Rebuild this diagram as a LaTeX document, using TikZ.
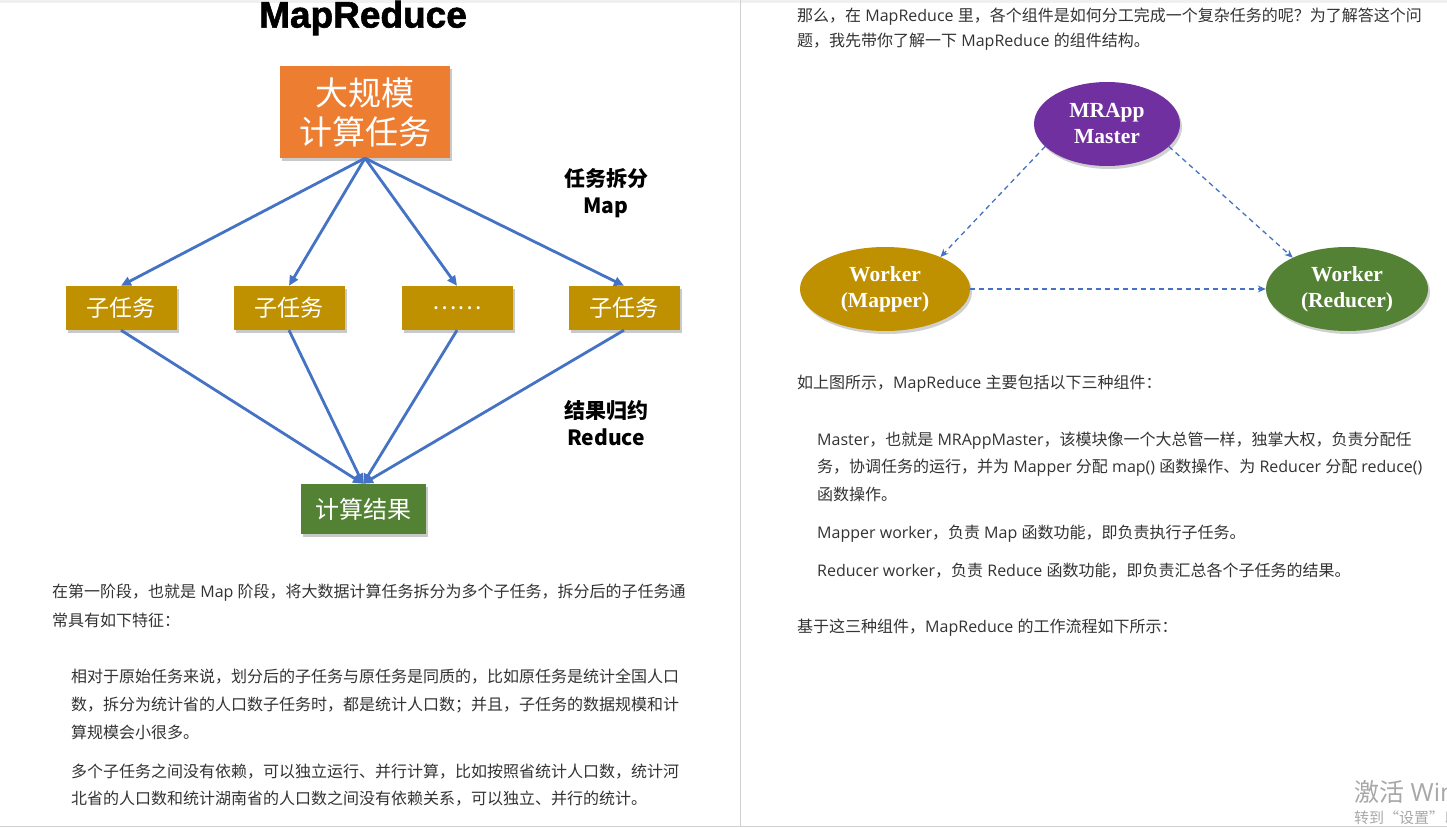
\documentclass[tikz,border=0pt]{standalone}
\usepackage{fontspec}
\setmainfont{Liberation Sans}
\newfontfamily\titlefont{Liberation Sans}[BoldFeatures={FakeBold=1.6}]
\newfontfamily\cjk{Noto Sans CJK SC}
\newfontfamily\lat{Open Sans}
\newfontfamily\serifb{Liberation Serif}
\usetikzlibrary{shadows,arrows.meta,shapes.geometric}
\definecolor{flowblue}{HTML}{4472C4}
\definecolor{boxorange}{HTML}{ED7D31}
\definecolor{boxgold}{HTML}{BF9000}
\definecolor{boxgreen}{HTML}{548235}
\definecolor{boxpurple}{HTML}{7030A0}
\definecolor{bodytext}{HTML}{333333}
\definecolor{pageline}{HTML}{D0D0D0}
\definecolor{wmark}{HTML}{A8A8A8}
\newcommand{\latw}[1]{{\lat\ #1\ }}
\newcommand{\latb}[1]{{\lat #1\ }}
\newcommand{\late}[1]{{\lat\ #1}}
\tikzset{
  shbox/.style={rectangle, inner sep=0pt, text=white,
    drop shadow={shadow xshift=2pt, shadow yshift=-3pt, opacity=0.35, fill=black!60}},
  subbox/.style={shbox, fill=boxgold, minimum width=111pt, minimum height=44pt,
    font=\cjk\fontsize{23}{28}\selectfont},
  ellnode/.style={ellipse, inner sep=0pt, text=white, align=center,
    font=\serifb\bfseries\fontsize{21.5}{26}\selectfont,
    drop shadow={shadow xshift=2pt, shadow yshift=-3pt, opacity=0.3, fill=black!60}},
  flow/.style={draw=flowblue, line width=2.8pt, -{Triangle[length=10pt,width=9pt]}},
  dflow/.style={draw=flowblue, line width=1.3pt, dash pattern=on 5pt off 4pt,
    -{Stealth[length=8pt,width=7pt]}},
  sidelabel/.style={align=center, font=\cjk\bfseries\fontsize{21}{27}\selectfont},
  bodyline/.style={anchor=base west, inner sep=0pt, text=bodytext,
    font=\cjk\fontsize{16}{20}\selectfont},
}
\begin{document}
\begin{tikzpicture}[x=1pt,y=-1pt]
\useasboundingbox (0,0) rectangle (1447,827);
\fill[white] (0,0) rectangle (1447,827);
% page frame
\fill[black!6] (0,0) rectangle (1447,3);
\draw[pageline, line width=1pt] (740,0) -- (740,827);
\draw[pageline, line width=1pt] (0,826) -- (1447,826);

% ---------- left page: MapReduce figure ----------
\node[font=\titlefont\bfseries\fontsize{37}{40}\selectfont, inner sep=0pt] (title) at (363,18) {MapReduce};

\node[shbox, fill=boxorange, minimum width=170pt, minimum height=92pt, align=center,
      font=\cjk\fontsize{33}{39}\selectfont] (big) at (365,112) {大规模\\计算任务};

\node[subbox] (s1) at (121,308) {子任务};
\node[subbox] (s2) at (289,308) {子任务};
\node[subbox] (s3) at (457,308) {……};
\node[subbox] (s4) at (624,308) {子任务};

\node[shbox, fill=boxgreen, minimum width=125pt, minimum height=50pt,
      font=\cjk\fontsize{24}{28}\selectfont] (res) at (363,509) {计算结果};

\node[sidelabel] (maplbl) at (606,193) {任务拆分\\Map};
\node[sidelabel] (redlbl) at (606,423) {结果归约\\Reduce};

\foreach \s in {s1,s2,s3,s4}{
  \draw[flow] (big.south) -- (\s.north);
  \draw[flow] (\s.south) -- (res.north);
}

% left page text
\node[bodyline] (l1) at (52,597) {在第一阶段，也就是\latw{Map}阶段，将大数据计算任务拆分为多个子任务，拆分后的子任务通};
\node[bodyline] (l2) at (52,626) {常具有如下特征：};
\node[bodyline] (l3) at (71,682) {相对于原始任务来说，划分后的子任务与原任务是同质的，比如原任务是统计全国人口};
\node[bodyline] (l4) at (71,710) {数，拆分为统计省的人口数子任务时，都是统计人口数；并且，子任务的数据规模和计};
\node[bodyline] (l5) at (71,738) {算规模会小很多。};
\node[bodyline] (l6) at (71,777) {多个子任务之间没有依赖，可以独立运行、并行计算，比如按照省统计人口数，统计河};
\node[bodyline] (l7) at (71,804) {北省的人口数和统计湖南省的人口数之间没有依赖关系，可以独立、并行的统计。};

% ---------- right page ----------
\node[bodyline] (r1) at (797,21) {那么，在\latw{MapReduce}里，各个组件是如何分工完成一个复杂任务的呢？为了解答这个问};
\node[bodyline] (r2) at (797,46) {题，我先带你了解一下\latw{MapReduce}的组件结构。};

\node[ellnode, fill=boxpurple, minimum width=146pt, minimum height=84pt] (mst) at (1107,124) {MRApp\\Master};
\node[ellnode, fill=boxgold, minimum width=170pt, minimum height=84pt] (mp) at (885,289) {Worker\\(Mapper)};
\node[ellnode, fill=boxgreen, minimum width=162pt, minimum height=84pt] (rd) at (1347,289) {Worker\\(Reducer)};

\draw[dflow] (mst.200) -- (mp.30);
\draw[dflow] (mst.-20) -- (rd.150);
\draw[dflow] (mp.east) -- (rd.west);

\node[bodyline] (r3) at (797,388) {如上图所示，\latb{MapReduce}主要包括以下三种组件：};
\node[bodyline] (r4) at (817,445) {{\lat Master}，也就是\late{MRAppMaster}，该模块像一个大总管一样，独掌大权，负责分配任};
\node[bodyline] (r5) at (817,472) {务，协调任务的运行，并为\latw{Mapper}分配\latw{map()}函数操作、为\latw{Reducer}分配\late{reduce()}};
\node[bodyline] (r6) at (817,500) {函数操作。};
\node[bodyline] (r7) at (817,538) {{\lat Mapper worker}，负责\latw{Map}函数功能，即负责执行子任务。};
\node[bodyline] (r8) at (817,576) {{\lat Reducer worker}，负责\latw{Reduce}函数功能，即负责汇总各个子任务的结果。};
\node[bodyline] (r9) at (797,632) {基于这三种组件，\latb{MapReduce}的工作流程如下所示：};

% watermark (clipped at the right edge, as in the screenshot)
\begin{scope}
\clip (1340,760) rectangle (1447,827);
\node[anchor=base west, inner sep=0pt, text=wmark, font=\cjk\fontsize{25}{30}\selectfont] (wm1) at (1354,801) {激活\latw{Windows}};
\node[anchor=base west, inner sep=0pt, text=wmark, font=\cjk\fontsize{15}{18}\selectfont] (wm2) at (1354,823) {转到“设置”以激活\latw{Windows}。};
\end{scope}
\end{tikzpicture}
\end{document}
